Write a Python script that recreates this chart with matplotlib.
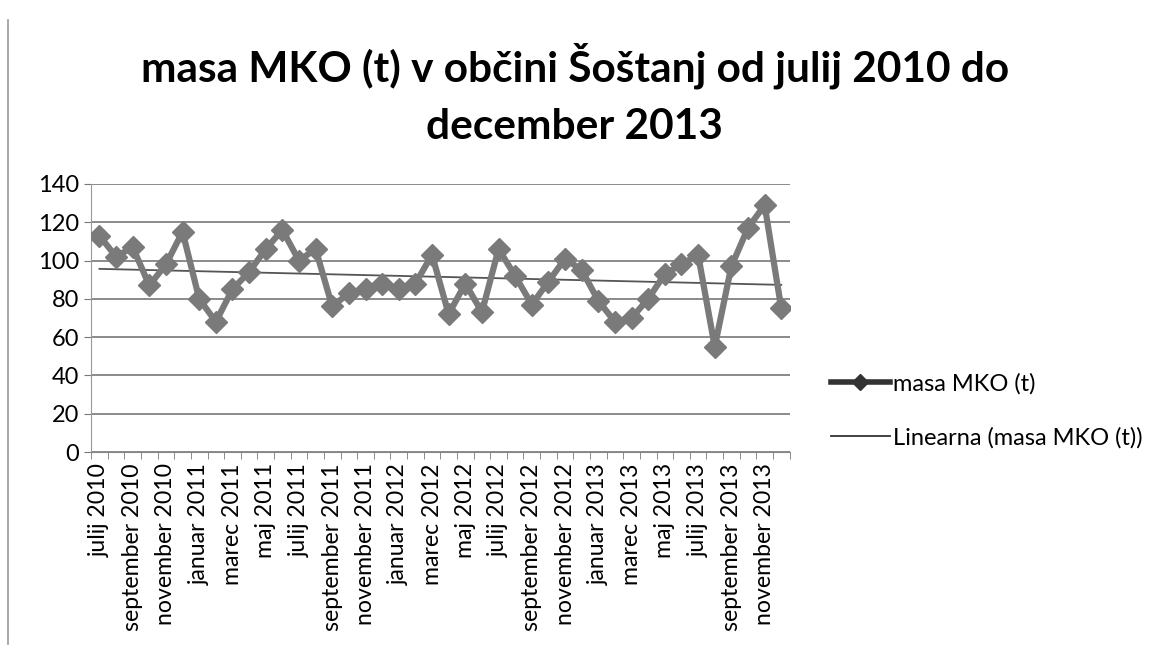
import numpy as np
import matplotlib

matplotlib.use("Agg")
import matplotlib.pyplot as plt
from matplotlib.lines import Line2D

# ── Data ────────────────────────────────────────────────────────
months = ["julij", "avgust", "september", "oktober", "november", "december",
          "januar", "februar", "marec", "april", "maj", "junij"]
start_year = 2010
n_months = 42

mass = [113, 102, 107, 87, 98, 115, 80, 68, 85, 94, 106, 116,
        100, 106, 76, 83, 85, 88, 85, 88, 103, 72, 88, 73,
        106, 92, 77, 89, 101, 95, 79, 68, 70, 80, 93, 98,
        103, 55, 97, 117, 129, 75]

labels = []
for i in range(n_months):
    m = months[i % 12]
    yr = start_year + (i + 6) // 12
    labels.append(f"{m} {yr}")

x = np.arange(n_months)
slope, intercept = np.polyfit(x, mass, 1)
trend = slope * x + intercept

# ── Figure ──────────────────────────────────────────────────────
plt.rcParams["font.family"] = ["Lato", "DejaVu Sans"]

fig = plt.figure(figsize=(11.68, 6.57), dpi=100)
ax = fig.add_axes([0.078, 0.312, 0.598, 0.408])

line_col = "#7a7a7a"
ax.plot(x, mass, color=line_col, linewidth=4.5, marker="D", markersize=11,
        markerfacecolor=line_col, markeredgecolor=line_col, zorder=3)
ax.plot(x, trend, color="#555555", linewidth=1.3, zorder=2)

ax.set_xlim(-0.5, n_months - 0.5)
ax.set_ylim(0, 140)
ax.set_yticks(range(0, 141, 20))
ax.yaxis.grid(True, color="#8a8a8a", linewidth=1.4)
ax.set_axisbelow(True)

ax.set_xticks(x[::2])
ax.set_xticklabels(labels[::2], rotation=90, fontsize=16.6)
ax.set_xticks(np.arange(-0.5, n_months, 1), minor=True)
ax.tick_params(axis="x", which="major", length=0, pad=8)
ax.tick_params(axis="x", which="minor", length=5, direction="out", color="#777777")
ax.tick_params(axis="y", labelsize=17, length=5, color="#777777")

for side in ["top", "right"]:
    ax.spines[side].set_visible(False)
ax.spines["left"].set_color("#999999")
ax.spines["bottom"].set_color("#888888")

fig.suptitle("masa MKO (t) v občini Šoštanj od julij 2010 do\ndecember 2013",
             fontsize=30.5, fontweight="bold", x=0.492, y=0.935, va="top",
             linespacing=1.6)

handles = [
    Line2D([0], [0], color="#333333", linewidth=4, marker="D", markersize=8),
    Line2D([0], [0], color="#333333", linewidth=1.3),
]
fig.legend(handles, ["masa MKO (t)", "Linearna (masa MKO (t))"],
           loc="center left", bbox_to_anchor=(0.693, 0.375), frameon=False,
           fontsize=17, handlelength=2.5, handletextpad=0.15, labelspacing=1.4)

# scanned frame edge on the left
fig.add_artist(Line2D([0.007, 0.007], [0.02, 0.97], color="#999999", linewidth=1.2))

fig.savefig("out.png", dpi=100)
